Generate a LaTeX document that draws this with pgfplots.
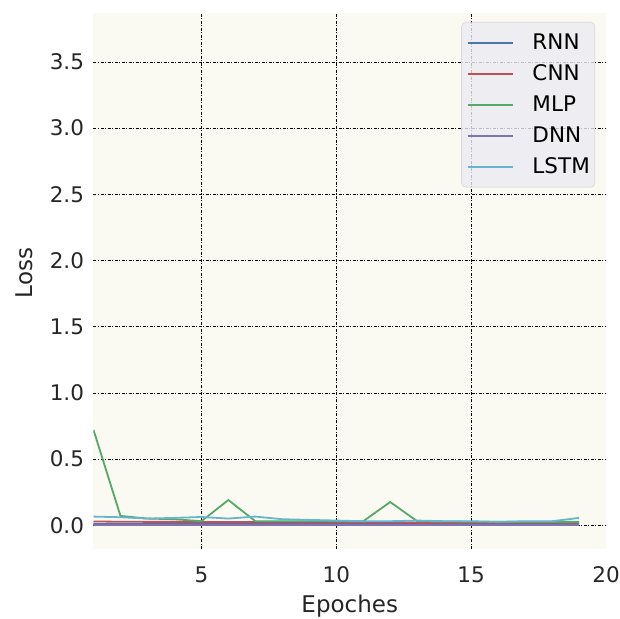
\documentclass[border=0pt]{standalone}
\usepackage{fontspec}
\setmainfont{DejaVu Sans}
\usepackage{pgfplots}
\pgfplotsset{compat=1.18}
\definecolor{cRNN}{HTML}{4C72B0}
\definecolor{cCNN}{HTML}{C44E52}
\definecolor{cMLP}{HTML}{55A868}
\definecolor{cDNN}{HTML}{8172B2}
\definecolor{cLSTM}{HTML}{64B5CD}
\definecolor{panelbg}{RGB}{250,250,242}
\definecolor{legbg}{RGB}{234,234,242}
\definecolor{legdraw}{RGB}{204,204,204}
\begin{document}
\begin{tikzpicture}
\begin{axis}[
  at={(0,0)}, anchor=south west,
  scale only axis, width=512.5pt, height=536pt,
  xmin=1, xmax=20, ymin=-0.18, ymax=3.87,
  xtick={5,10,15}, ytick={0,0.5,...,3.5},
  extra x ticks={20}, extra x tick style={grid=none},
  axis background/.style={fill=panelbg},
  axis line style={draw=none},
  major tick length=0pt,
  grid=major,
  major grid style={black, line width=0.6pt, dash pattern=on 3pt off 1.5pt on 1pt off 1.5pt},
  /pgf/number format/assume math mode=true,
  /pgf/number format/.cd, fixed, fixed zerofill, precision=1, /pgfplots/.cd,
  xticklabel={\pgfmathprintnumber[fixed,precision=0]{\tick}},
  ticklabel style={font=\fontsize{21.5}{25}\selectfont, text=black!85},
  yticklabel style={xshift=-6pt},
  xticklabel style={yshift=-14pt},
  xlabel={Epoches}, ylabel={Loss},
  label style={font=\fontsize{23}{27}\selectfont, text=black!85},
  xlabel style={yshift=-5pt},
  ylabel style={yshift=10pt, xshift=8pt},
  legend style={
    at={(1,1)}, anchor=north east, xshift=-11pt, yshift=-9pt,
    fill=legbg, fill opacity=0.8, draw opacity=1, text opacity=1,
    draw=legdraw, rounded corners=4pt,
    font=\fontsize{21.5}{25}\selectfont,
    inner xsep=5pt, inner ysep=5pt, row sep=0pt,
    nodes={inner sep=0pt, text height=22pt, text depth=9pt},
  },
  legend cell align=left,
  legend image code/.code={\draw[#1, line width=1.8pt, draw opacity=1] (0pt,0pt) -- (45pt,0pt); \path (0pt,-2pt) (64pt,2pt);},
  every axis plot/.append style={line width=1.8pt, mark=none},
]
\addplot[color=cRNN] coordinates {(1,0.01)(2,0.01)(3,0.01)(4,0.01)(5,0.01)(6,0.01)(7,0.01)(8,0.01)(9,0.01)(10,0.01)(11,0.01)(12,0.01)(13,0.01)(14,0.01)(15,0.01)(16,0.01)(17,0.01)(18,0.01)(19,0.01)};
\addlegendentry{RNN}
\addplot[color=cCNN] coordinates {(1,0.028)(2,0.026)(3,0.025)(4,0.025)(5,0.024)(6,0.024)(7,0.023)(8,0.022)(9,0.021)(10,0.02)(11,0.02)(12,0.02)(13,0.019)(14,0.019)(15,0.018)(16,0.018)(17,0.018)(18,0.018)(19,0.018)};
\addlegendentry{CNN}
\addplot[color=cMLP] coordinates {(1,0.72)(2,0.07)(3,0.05)(4,0.045)(5,0.03)(6,0.19)(7,0.03)(8,0.03)(9,0.03)(10,0.03)(11,0.03)(12,0.175)(13,0.03)(14,0.028)(15,0.026)(16,0.025)(17,0.025)(18,0.025)(19,0.025)};
\addlegendentry{MLP}
\addplot[color=cDNN] coordinates {(1,0.003)(2,0.003)(3,0.003)(4,0.003)(5,0.003)(6,0.003)(7,0.003)(8,0.003)(9,0.003)(10,0.003)(11,0.003)(12,0.003)(13,0.003)(14,0.003)(15,0.003)(16,0.003)(17,0.003)(18,0.003)(19,0.003)};
\addlegendentry{DNN}
\addplot[color=cLSTM] coordinates {(1,0.065)(2,0.06)(3,0.05)(4,0.055)(5,0.062)(6,0.05)(7,0.065)(8,0.045)(9,0.04)(10,0.035)(11,0.03)(12,0.03)(13,0.035)(14,0.03)(15,0.03)(16,0.025)(17,0.03)(18,0.03)(19,0.055)};
\addlegendentry{LSTM}
\end{axis}
\pgfresetboundingbox
\path (-93.5pt,-69pt) rectangle (526.5pt,549pt);
\end{tikzpicture}
\end{document}
